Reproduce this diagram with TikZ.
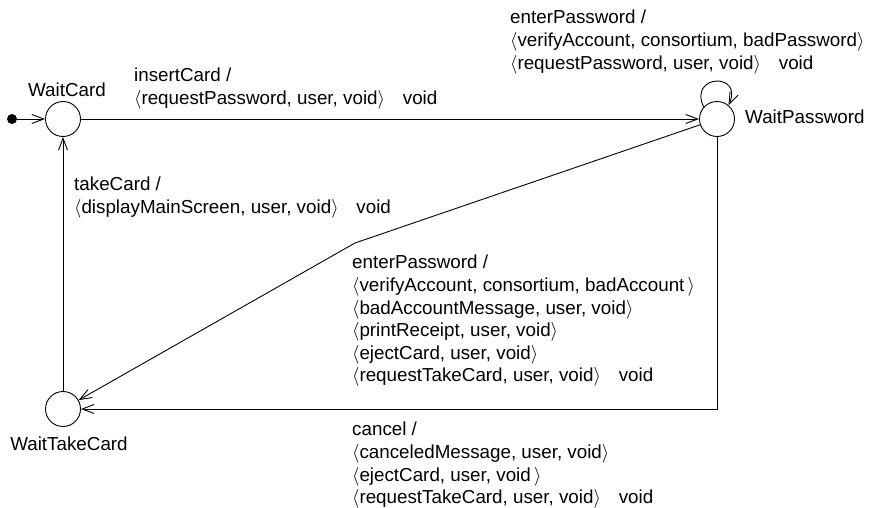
\documentclass[tikz,border=0pt]{standalone}
\usepackage{fix-cm}
\usepackage{fontspec}
\setmainfont{Liberation Sans}
\usetikzlibrary{arrows.meta}
% a message triple in angle brackets
\newcommand\msgtuple[1]{$\langle$#1$\rangle$}
\newcommand\gapvoid{\hspace{0.95em}void}
\begin{document}
\begin{tikzpicture}[x=1pt,y=-1pt,
  state/.style={circle,draw,minimum size=35pt,inner sep=0pt,line width=0.9pt},
  trans/.style={line width=0.9pt,-{Straight Barb[length=12pt,width=9pt,line width=0.9pt]}},
  lbl/.style={align=left,anchor=north west,inner sep=0pt,font=\fontsize{18.8}{22.6}\selectfont},
  sname/.style={inner sep=0pt,font=\fontsize{18.8}{22.6}\selectfont}]
\useasboundingbox (0,0) rectangle (872,508);

% states
\node[fill,circle,inner sep=0pt,minimum size=10pt] (init) at (12,119) {};
\node[state] (wc)  at (63,119) {};
\node[state] (wp)  at (717,119) {};
\node[state] (wtc) at (63,409) {};

% state names
\node[sname,anchor=base] (wcname) at (67,97) {WaitCard};
\node[sname,anchor=base west] (wpname) at (745,124) {WaitPassword};
\node[sname,anchor=base] (wtcname) at (69,450) {WaitTakeCard};

% transitions
\coordinate (bend) at (355,243);
\coordinate (loopa) at (688,74);
\coordinate (loopb) at (744,72);
\draw[trans] (init) -- (wc);
\draw[trans] (wc) -- (wp);
\draw[trans] (wp.138) .. controls (loopa) and (loopb) .. (wp.50);
\draw[trans] (wp) -- (bend) -- (wtc);
\draw[trans] (wp) |- (wtc);
\draw[trans] (wtc) -- (wc);

% transition labels
\node[lbl] (l1) at (134,68) {insertCard /\\
  \msgtuple{requestPassword, user, void}\gapvoid};
\node[lbl] (l2) at (510,10) {enterPassword /\\
  \msgtuple{verifyAccount, consortium, badPassword}\\
  \msgtuple{requestPassword, user, void}\gapvoid};
\node[lbl] (l3) at (74,177) {takeCard /\\
  \msgtuple{displayMainScreen, user, void}\gapvoid};
\node[lbl] (l4) at (352,255) {enterPassword /\\
  \msgtuple{verifyAccount, consortium, badAccount\,}\\
  \msgtuple{badAccountMessage, user, void}\\
  \msgtuple{printReceipt, user, void}\\
  \msgtuple{ejectCard, user, void}\\
  \msgtuple{requestTakeCard, user, void}\gapvoid};
\node[lbl] (l5) at (352,422) {cancel /\\
  \msgtuple{canceledMessage, user, void}\\
  \msgtuple{ejectCard, user, void\,}\\
  \msgtuple{requestTakeCard, user, void}\gapvoid};
\end{tikzpicture}
\end{document}
